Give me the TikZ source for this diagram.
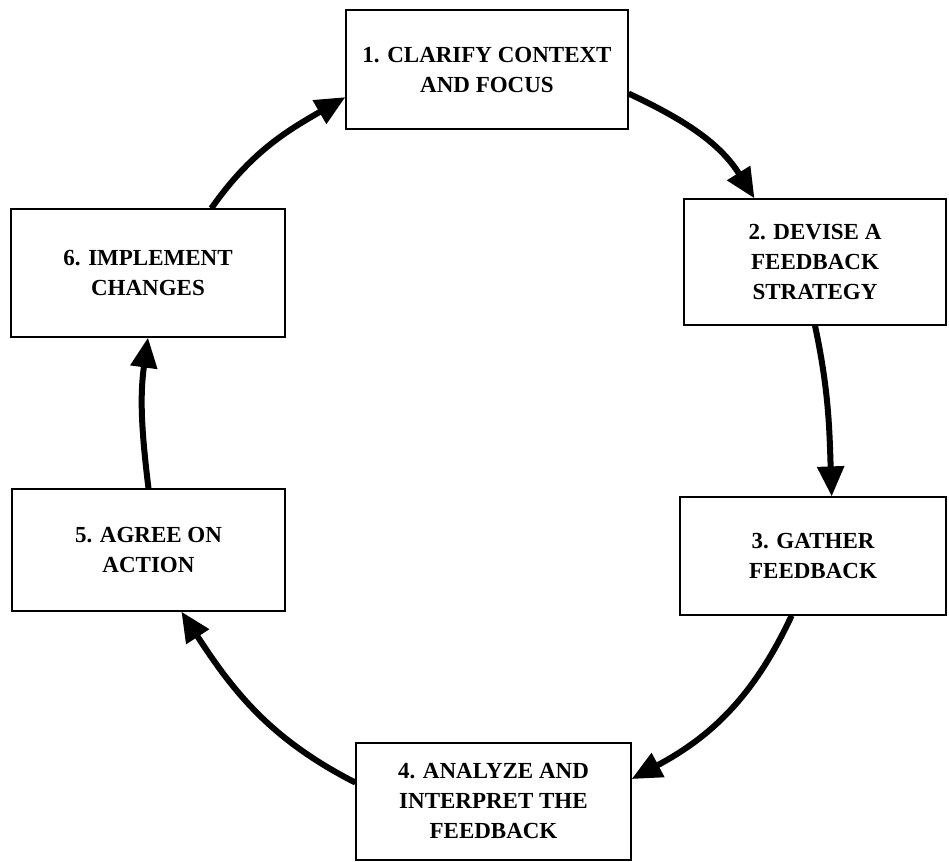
\documentclass[tikz,border=0pt]{standalone}
\usepackage{fontspec}
\setmainfont{Liberation Serif}
\usetikzlibrary{arrows.meta,calc}

\tikzset{
  stagebox/.style={draw, line width=0.6pt, align=center, inner sep=0pt,
    font=\fontsize{11.5}{15}\selectfont\bfseries},
  cyclearrow/.style={line width=3pt, -{Triangle[length=15pt,width=13pt]}}
}

\begin{document}
\begin{tikzpicture}[x=0.5pt,y=0.5pt]
\useasboundingbox (0,0) rectangle (949,-862);

\node[stagebox, minimum width=141pt, minimum height=59.5pt] (clarify) at (487,-69.5) {1. CLARIFY CONTEXT\\AND FOCUS};
\node[stagebox, minimum width=131pt, minimum height=63pt] (devise) at (815,-262) {2. DEVISE A\\FEEDBACK\\STRATEGY};
\node[stagebox, minimum width=133pt, minimum height=59pt] (gather) at (813,-556) {3. GATHER\\FEEDBACK};
\node[stagebox, minimum width=137.5pt, minimum height=58.5pt] (analyze) at (493.5,-801.5) {4. ANALYZE AND\\INTERPRET THE\\FEEDBACK};
\node[stagebox, minimum width=136.5pt, minimum height=61pt] (agree) at (148.5,-550) {5. AGREE ON\\ACTION};
\node[stagebox, minimum width=137pt, minimum height=64pt] (implement) at (148,-273) {6. IMPLEMENT\\CHANGES};

% round the cycle
\draw[cyclearrow] ($(clarify.north east)!0.70!(clarify.south east)$) to[out=-25,in=122] ($(devise.north west)!0.27!(devise.north east)$);
\draw[cyclearrow] (devise.south) to[out=-78,in=92] ($(gather.north west)!0.57!(gather.north east)$);
\draw[cyclearrow] ($(gather.south west)!0.42!(gather.south east)$) to[out=-115,in=28] ($(analyze.north east)!0.31!(analyze.south east)$);
\draw[cyclearrow] ($(analyze.north west)!0.34!(analyze.south west)$) to[out=153,in=-57] ($(agree.south west)!0.62!(agree.south east)$);
\draw[cyclearrow] (agree.north) to[out=97,in=-98] (implement.south);
\draw[cyclearrow] ($(implement.north west)!0.73!(implement.north east)$) to[out=55,in=210] ($(clarify.north west)!0.73!(clarify.south west)$);

\end{tikzpicture}
\end{document}
